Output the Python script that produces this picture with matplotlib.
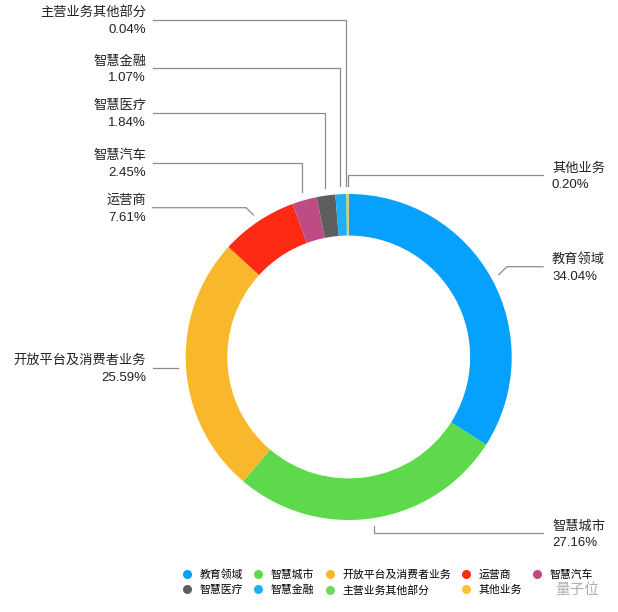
import matplotlib
matplotlib.use('Agg')
import matplotlib.pyplot as plt
import numpy as np
from matplotlib.lines import Line2D

plt.rcParams['font.family'] = ['Noto Sans CJK SC', 'DejaVu Sans']

# ---- data ----
categories = ['教育领域', '智慧城市', '开放平台及消费者业务', '运营商', '智慧汽车',
              '智慧医疗', '智慧金融', '主营业务其他部分', '其他业务']
values = [34.04, 27.16, 25.59, 7.61, 2.45, 1.84, 1.07, 0.04, 0.20]
colors = ['#05A1FD', '#5DD94B', '#F9B82C', '#FE2A14', '#BF4B84',
          '#5E5E5E', '#1FAEF7', '#6CD85C', '#F9C235']

# ---- label layout (pixel space) ----
label_line_y = [266.7, 533, 367, 207.7, 162.7, 112.7, 68.3, 19.7, 175]
label_route = ['diag', 'vert', 'flat', 'diag', 'vert', 'vert', 'vert', 'vert', 'vert']
label_side = ['R', 'R', 'L', 'L', 'L', 'L', 'L', 'L', 'R']

W, H = 618, 612
CX, CY, R = 348.7, 357.0, 163.0
RING = 0.255

fig = plt.figure(figsize=(W / 100, H / 100), dpi=100)
ax = fig.add_axes([0, 0, 1, 1])
wedges, _ = ax.pie(values, colors=colors, startangle=-90, counterclock=True,
                   radius=R, center=(CX, CY),
                   wedgeprops=dict(width=R * RING, linewidth=0))
ax.set_xlim(0, W)
ax.set_ylim(H, 0)
ax.set_aspect('equal')
ax.axis('off')

line_kw = dict(color='#8c8c8c', lw=0.9, solid_joinstyle='miter')
name_kw = dict(fontsize=9.5, color='#222222', family=['Noto Sans CJK SC'])
pct_kw = dict(fontsize=9.5, color='#222222', family=['Liberation Sans'])

for w, name, v, ly, route, side in zip(wedges, categories, values,
                                        label_line_y, label_route, label_side):
    theta = np.deg2rad((w.theta1 + w.theta2) / 2)
    ax_x = w.center[0] + 1.05 * w.r * np.cos(theta)
    ax_y = w.center[1] + 1.05 * w.r * np.sin(theta)
    if side == 'L':
        end_x, tx, ha, s = 152.7, 146, 'right', -1
    else:
        end_x, tx, ha, s = 543.0, 552, 'left', 1
    if route == 'vert':
        xs = [end_x, ax_x, ax_x]
        ys = [ly, ly, ax_y]
    elif route == 'diag':
        ex = ax_x + s * abs(ly - ax_y)
        xs = [end_x, ex, ax_x]
        ys = [ly, ly, ax_y]
    else:
        ly = ax_y
        xs = [end_x, ax_x]
        ys = [ly, ly]
    ax.plot(xs, ys, **line_kw)
    ax.text(tx, ly - 7, name, ha=ha, va='center', **name_kw)
    ax.text(tx, ly + 10, f'{v:.2f}%', ha=ha, va='center', **pct_kw)

# ---- legend (row-major look with column-major fill) ----
order = [0, 5, 1, 6, 2, 7, 3, 8, 4]
handles = [Line2D([], [], marker='o', ls='', color=colors[i], markersize=6.5,
                  markeredgewidth=0) for i in order]
labels = [categories[i] for i in order]
fig.legend(handles, labels, loc='upper left', bbox_to_anchor=(183 / W, 1 - 569 / H),
           ncol=5, frameon=False, borderpad=0, borderaxespad=0,
           handlelength=0.8, handletextpad=0.75, columnspacing=1.0,
           labelspacing=0.48, prop=dict(family='Noto Sans CJK SC', size=7.8))

# watermark
ax.text(577, 590, '量子位', ha='center', va='center', fontsize=10.5,
        color='#9a9a9a', alpha=0.8)

fig.savefig('out.png', dpi=100, facecolor='white')
